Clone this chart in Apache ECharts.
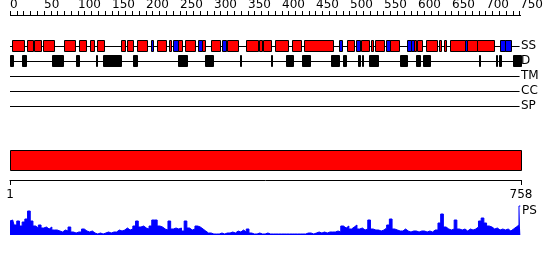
<!DOCTYPE html>
<html><head><meta charset="utf-8">
<script src="https://cdn.jsdelivr.net/npm/echarts@6/dist/echarts.min.js"></script>
<style>html,body{margin:0;padding:0;background:#fff}#c{width:550px;height:260px}</style>
</head><body><div id="c"></div>
<script>
const seqLength = 758;
const scaleMax = 750;
const minorStep = 10;
const scaleLabels = [0,50,100,150,200,250,300,350,400,450,500,550,600,650,700,750];
const tracks = ['SS', 'D', 'TM', 'CC', 'SP'];
// secondary structure: helices (red), strands (blue) as [start, end] residues
const helices = [[3,21],[25,34],[35,46],[49,65],[79,96],[101,112],[118,124],[128,138],[163,169],[172,181],[187,201],[216,229],[234,237],[247,253],[257,272],[282,287],[296,309],[319,335],[347,365],[366,371],[372,384],[390,409],[415,429],[432,475],[496,507],[516,529],[531,534],[537,551],[559,572],[594,597],[599,607],[613,628],[631,635],[639,641],[647,669],[672,687],[688,713]];
const strands = [[207,210],[240,247],[276,282],[312,318],[484,488],[509,515],[554,559],[585,590],[590,594],[669,672],[721,728],[729,737]];
// disorder track
const disorder = [[0,4],[18,23],[62,78],[97,102],[126,128],[137,164],[181,187],[247,261],[287,299],[338,340],[384,386],[406,417],[430,441],[472,484],[490,495],[512,515],[518,520],[528,542],[574,585],[597,603],[608,618],[690,692],[715,717],[720,722],[740,752]];
const domainBar = [[1, 758]];
const axisEnds = [1, 758];
// PS profile, one value every 4 residues starting at residue 1
const psStart = 1, psStep = 4;
const psValues = [14,15,10,14,9,13,16,24,14,9,7,10,7,8,6,8,5,5,4,3,5,4,8,3,2,3,3,6,4,3,4,2,1,2,1,2,3,2,3,3,5,4,5,7,5,6,9,14,8,9,7,6,9,15,15,9,8,6,5,14,6,7,6,7,4,14,7,5,6,9,8,6,4,2,2,1,1,1,2,1,2,2,3,2,4,3,5,3,6,2,1,1,2,1,1,2,1,1,1,1,1,1,1,1,1,1,1,1,1,1,2,2,1,2,3,2,3,2,3,3,3,4,3,9,7,9,6,8,10,6,7,5,6,15,6,5,5,4,5,7,10,16,6,5,4,4,6,4,3,4,4,3,4,4,3,4,3,5,5,12,21,8,6,5,6,15,6,5,6,4,6,5,6,8,14,17,12,9,8,6,7,5,6,5,6,4,6,8,10,29];

const FONT = 'DejaVu Sans';
const AXIS_GAP = 23;   // distance from top scale line to first grid
const chart = echarts.init(document.getElementById('c'), null, {renderer: 'canvas'});

const minorTicks = [];
for (let v = 0; v <= scaleMax; v += minorStep) minorTicks.push(v);

function rectSeries(data, trackIdx, color, xi, yi) {
  return {
    type: 'custom', xAxisIndex: xi, yAxisIndex: yi, z: 3, silent: true, clip: false,
    data: data.map(d => [d[0], d[1], trackIdx]),
    encode: {x: [0, 1], y: 2},
    renderItem(params, api) {
      const s = api.coord([api.value(0), api.value(2)]);
      const e = api.coord([api.value(1), api.value(2)]);
      const h = Math.round(api.size([0, 1])[1] * 0.73);
      const x1 = Math.round(s[0]) + 0.5, x2 = Math.max(Math.round(e[0]), Math.round(s[0]) + 1) + 0.5;
      const y1 = Math.round(s[1] - h / 2) + 0.5;
      return {type: 'rect', shape: {x: x1, y: y1, width: x2 - x1, height: h},
        style: {fill: color, stroke: '#000', lineWidth: 1}};
    }
  };
}

const psData = psValues.map((v, i) => [psStart + i * psStep, v]);

chart.setOption({
  animation: false,
  grid: [
    {left: 10, width: 515, top: 38, height: 75},
    {left: 10, width: 511, top: 150, height: 30},
    {left: 10, width: 511, top: 205, height: 30}
  ],
  xAxis: [
    {gridIndex: 0, type: 'value', position: 'top', min: 0, max: seqLength, offset: AXIS_GAP,
      axisLine: {show: false},
      axisTick: {show: true, length: 4, customValues: minorTicks, lineStyle: {color: '#000'}},
      axisLabel: {show: false},
      splitLine: {show: false}},
    {gridIndex: 1, type: 'value', position: 'bottom', min: axisEnds[0], max: axisEnds[1],
      axisLine: {show: true, onZero: false, lineStyle: {color: '#000', width: 1}},
      axisTick: {show: true, length: 5, customValues: axisEnds, lineStyle: {color: '#000'}},
      axisLabel: {show: true, customValues: axisEnds, margin: 9, color: '#000', fontSize: 12, fontFamily: FONT, showMaxLabel: true},
      splitLine: {show: false}},
    {gridIndex: 2, type: 'value', min: 1, max: seqLength, show: false}
  ],
  yAxis: [
    {gridIndex: 0, type: 'category', data: tracks, inverse: true, position: 'right', offset: -5,
      axisLine: {show: false}, axisTick: {show: false}, splitLine: {show: false},
      axisLabel: {show: true, interval: 0, margin: 1, color: '#000', fontSize: 12, fontFamily: FONT}},
    {gridIndex: 1, type: 'value', min: 0, max: 30, inverse: true, show: false},
    {gridIndex: 2, type: 'value', min: 0, max: 30, position: 'right',
      axisLine: {show: false}, axisTick: {show: false}, splitLine: {show: false},
      axisLabel: {show: true, customValues: [24], formatter: () => 'PS', margin: 1, color: '#000', fontSize: 12, fontFamily: FONT}}
  ],
  series: [
    {
      // top scale baseline
      type: 'custom', xAxisIndex: 0, yAxisIndex: 0, z: 1, silent: true, clip: false,
      data: [[0, scaleMax, 0]],
      encode: {x: [0, 1], y: 2},
      renderItem(params, api) {
        const s = api.coord([api.value(0), 0]);
        const e = api.coord([api.value(1), 0]);
        const top = Math.round(params.coordSys.y - AXIS_GAP);
        return {type: 'line', shape: {x1: Math.round(s[0]), y1: top + 0.5, x2: Math.round(e[0]) + 1, y2: top + 0.5}, style: {stroke: '#000', lineWidth: 1}};
      }
    },
    {
      // top scale labels
      type: 'custom', xAxisIndex: 0, yAxisIndex: 0, z: 1, silent: true, clip: false,
      data: scaleLabels.map(v => [v, 0]),
      encode: {x: 0, y: 1},
      renderItem(params, api) {
        const p = api.coord([api.value(0), 0]);
        const top = Math.round(params.coordSys.y - AXIS_GAP);
        return {type: 'text', x: Math.round(p[0]), y: top - 4,
          style: {text: String(api.value(0)), fill: '#000', font: '12px ' + FONT, textAlign: 'left', textVerticalAlign: 'bottom'}};
      }
    },
    {
      type: 'custom', xAxisIndex: 0, yAxisIndex: 0, z: 1, silent: true, clip: false,
      data: tracks.map((t, i) => [0, scaleMax, i]),
      encode: {x: [0, 1], y: 2},
      renderItem(params, api) {
        const s = api.coord([api.value(0), api.value(2)]);
        const e = api.coord([api.value(1), api.value(2)]);
        const y = Math.round(s[1]) + 0.5;
        return {type: 'line', shape: {x1: s[0], y1: y, x2: e[0], y2: y}, style: {stroke: '#000', lineWidth: 1}};
      }
    },
    rectSeries(helices, 0, '#ff0000', 0, 0),
    rectSeries(strands, 0, '#0000ff', 0, 0),
    rectSeries(disorder, 1, '#000000', 0, 0),
    {
      type: 'custom', xAxisIndex: 1, yAxisIndex: 1, silent: true,
      data: domainBar,
      encode: {x: [0, 1]},
      renderItem(params, api) {
        const s = api.coord([api.value(0), 0]);
        const e = api.coord([api.value(1), 20]);
        return {type: 'rect', shape: {x: Math.round(s[0]) + 0.5, y: Math.round(s[1]) + 0.5, width: Math.round(e[0] - s[0]), height: Math.round(e[1] - s[1])},
          style: {fill: '#ff0000', stroke: '#000', lineWidth: 1}};
      }
    },
    {
      type: 'line', xAxisIndex: 2, yAxisIndex: 2, data: psData, symbol: 'none', silent: true, step: 'middle',
      lineStyle: {color: '#0000ff', width: 1}, areaStyle: {color: '#0000ff', opacity: 1}
    }
  ]
});
</script></body></html>
